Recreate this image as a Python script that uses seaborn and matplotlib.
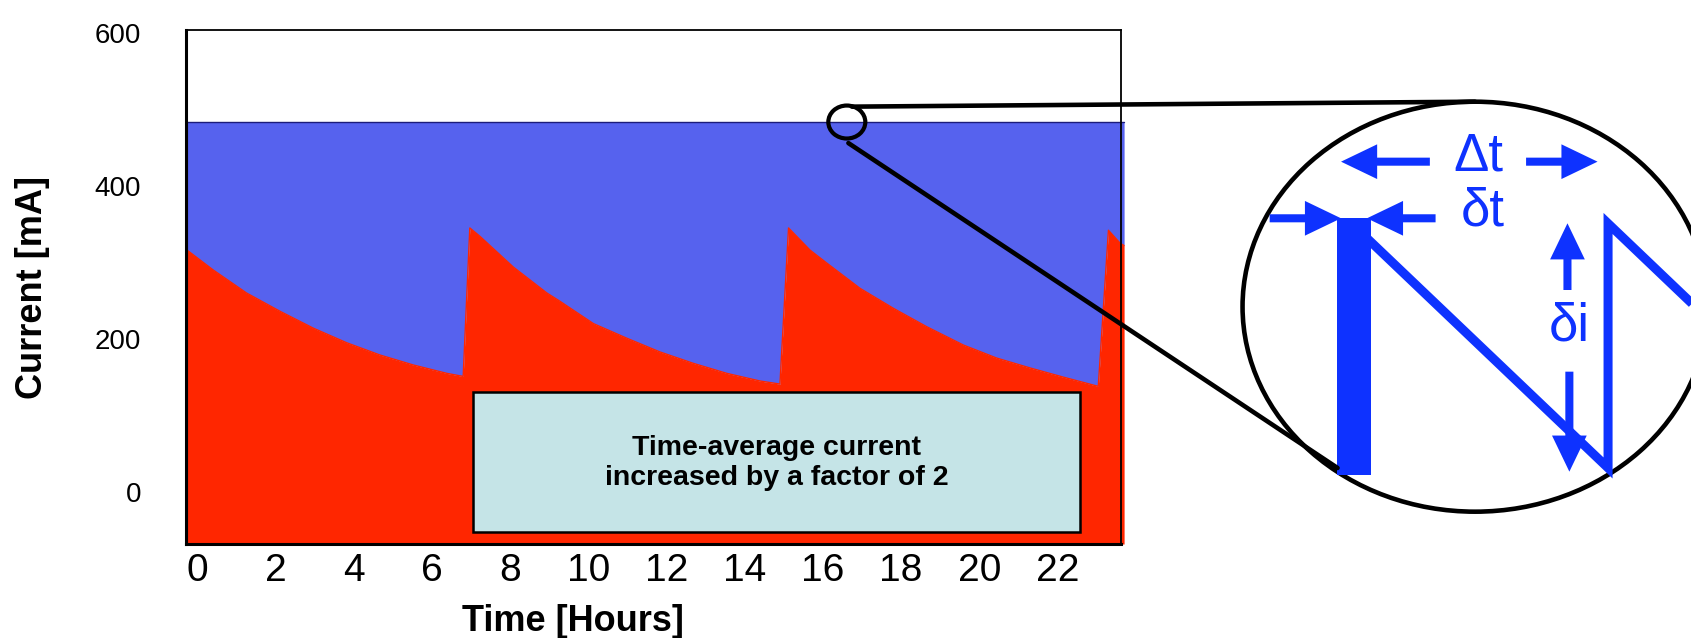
import pandas as pd
import matplotlib.pyplot as plt
import seaborn as sns
from matplotlib.patches import Ellipse, Rectangle, ConnectionPatch

# --- data ---

# stored current over one day: decay, then a top-up injection every ~8 h
hours = [-0.26, 0.41, 1.26, 2.12, 2.97, 3.82, 4.67, 5.52, 6.38, 6.80,
         6.97, 7.23, 8.08, 8.94, 9.28, 10.13, 10.98, 11.83, 12.69, 13.54, 14.39, 14.90,
         15.12, 15.67, 16.10, 16.95, 17.80, 18.65, 19.59, 20.44, 21.30, 22.15, 23.04,
         23.30, 23.60, 23.70]
current_ma = [316, 290, 260, 236, 214, 195, 179, 166, 155, 151,
              345, 334, 294, 260, 249, 220, 201, 183, 168, 155, 145, 141,
              345, 316, 299, 266, 240, 216, 192, 175, 162, 150, 138,
              342, 325, 322]
top_up_ma = 484  # constant current with top-up injection

x_ticks = list(range(0, 24, 2))
y_ticks = [0, 200, 400, 600]

box_text = "Time-average current\nincreased by a factor of 2"

# zoomed-in sawtooth (inset units 0..1)
zoom_t = [0.2355, 0.786, 0.786, 1.005]
zoom_i = [0.7017, 0.1066, 0.703, 0.466]
injection_t = [0.204, 0.277]   # width of the injection (delta t)
injection_i = [0.0895, 0.716]

RED = "#FF2600"
BLUE = "#5662EE"
NAVY = "#1C1C7A"
BOX = "#C5E4E7"
ZBLUE = "#0E32FF"

sns.set_theme(style="white")
plt.rcParams["font.family"] = ["Liberation Sans", "DejaVu Sans"]
plt.rcParams["text.color"] = "black"

fig = plt.figure(figsize=(16.91, 6.38), dpi=100)
ax = fig.add_axes([0.1097, 0.1473, 0.5532, 0.8049])

df = pd.DataFrame({"hours": hours, "current": current_ma})
y_low, y_high = -68, 603

# red = decaying current, blue = extra charge from top-up
ax.fill_between(df["hours"], y_low, df["current"], color=RED, lw=0, clip_on=False)
ax.fill_between(df["hours"], df["current"], top_up_ma, color=BLUE, lw=0, clip_on=False)
sns.lineplot(data=df, x="hours", y="current", color=RED, lw=1, ax=ax,
             estimator=None, sort=False, clip_on=False)
ax.plot([hours[0], hours[-1]], [top_up_ma, top_up_ma], color=NAVY, lw=1, clip_on=False)
ax.plot([hours[0], hours[0]], [y_low, top_up_ma], color=NAVY, lw=1.5)

ax.add_patch(Rectangle((7.06, -52), 15.52, 182, facecolor=BOX, edgecolor="black",
                       lw=1.8, zorder=3))
ax.text(14.82, 38, box_text, ha="center", va="center", fontsize=20.5,
        fontweight="bold", linespacing=1.2, color="black", zorder=4)

ax.set_xlim(-0.30, 23.62)
ax.set_ylim(y_low, y_high)
ax.set_xticks(x_ticks)
ax.set_yticks(y_ticks)
ax.tick_params(axis="x", length=0, pad=6.5, labelsize=28, colors="black")
ax.tick_params(axis="y", length=0, pad=32, labelsize=20, colors="black")

ax.set_xlabel("Time [Hours]", fontsize=26, fontweight="bold", color="black")
ax.set_ylabel("Current [mA]", fontsize=26, fontweight="bold", color="black")
ax.xaxis.set_label_coords(0.4137, -0.117)
ax.yaxis.set_label_coords(-0.145, 0.5)

for name, s in ax.spines.items():
    s.set_visible(True)
    s.set_color("black")
    s.set_linewidth(2.2 if name in ("left", "bottom") else 1.3)
    s.set_zorder(5)

# small circle marking the zoomed region
ax.add_patch(Ellipse((16.61, 483.4), 0.946, 43.1, fill=False, edgecolor="black",
                     lw=3, zorder=6, clip_on=False))

# --- magnified view ---
ax_in = fig.add_axes([0.7348, 0.198, 0.275, 0.6426])
ax_in.set_xlim(0, 1)
ax_in.set_ylim(0, 1)
ax_in.set_axis_off()

ax_in.add_patch(Ellipse((0.5, 0.5), 1, 1, fill=False, edgecolor="black", lw=3.3,
                        clip_on=False))
ax_in.fill_between(injection_t, injection_i[0], injection_i[1], color=ZBLUE, lw=0)
sns.lineplot(x=zoom_t, y=zoom_i, sort=False, estimator=None, color=ZBLUE, lw=6.5,
             ax=ax_in, solid_joinstyle="miter", solid_capstyle="butt")


def arrow(tail, tip):
    ax_in.annotate("", xy=tip, xytext=tail,
                   arrowprops=dict(arrowstyle="simple,head_length=2.6,head_width=2.5,tail_width=0.58",
                                   color=ZBLUE, lw=0, shrinkA=0, shrinkB=0,
                                   mutation_scale=10))


arrow((0.4028, 0.8537), (0.2118, 0.8537))
arrow((0.6097, 0.8537), (0.7634, 0.8537))
arrow((0.0583, 0.7156), (0.2118, 0.7156))
arrow((0.4151, 0.7156), (0.2675, 0.7156))
arrow((0.6987, 0.5407), (0.6987, 0.7034))
arrow((0.7028, 0.3415), (0.7028, 0.0976))

ax_in.text(0.5065, 0.8659, "Δt", ha="center", va="center", fontsize=38, color=ZBLUE)
ax_in.text(0.517, 0.731, "δt", ha="center", va="center", fontsize=38, color=ZBLUE)
ax_in.text(0.7027, 0.4505, "δi", ha="center", va="center", fontsize=38, color=ZBLUE)

# lines joining the small circle to the magnified view
for xy_main, xy_zoom in [((16.74, 503.5), (0.5, 1.0)), ((16.65, 455.9), (0.2043, 0.1066))]:
    con = ConnectionPatch(xyA=xy_main, coordsA=ax.transData, xyB=xy_zoom,
                          coordsB=ax_in.transData, color="black", lw=3.3)
    fig.add_artist(con)

fig.savefig("out.png", dpi=100)
